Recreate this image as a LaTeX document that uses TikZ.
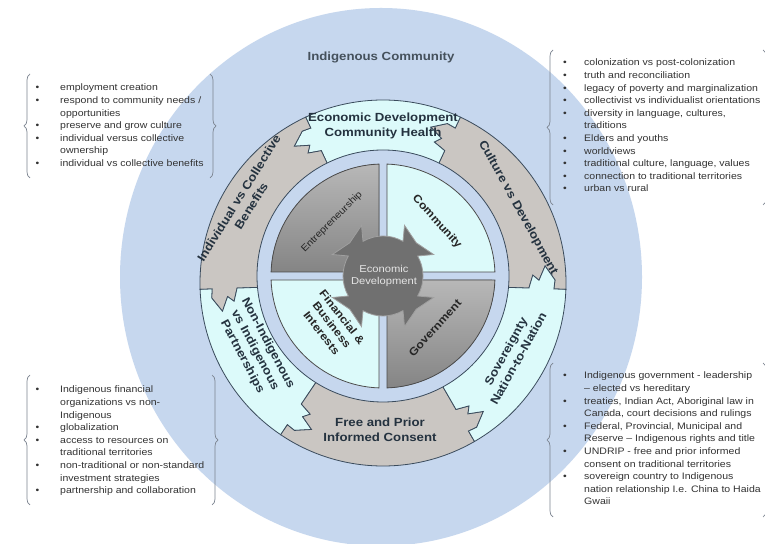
\documentclass[tikz,border=0pt]{standalone}
\usepackage{fontspec}
\setmainfont{Liberation Sans}[FakeStretch=1.12]
\usetikzlibrary{decorations.pathreplacing}

\definecolor{commblue}{HTML}{C6D7EE}
\definecolor{piececyan}{HTML}{DCFAFA}
\definecolor{piecegray}{HTML}{CAC6C2}
\definecolor{rimline}{HTML}{3A4B5C}
\definecolor{labeltext}{HTML}{24323F}
\definecolor{listtext}{HTML}{333333}
\definecolor{bracegray}{HTML}{7C8490}
\definecolor{gearfill}{HTML}{707070}
\definecolor{gearline}{HTML}{A0A0A0}

\newcommand{\ringpiece}[3]{% fill, start angle, end angle
  \filldraw[fill=#1, draw=rimline, line width=0.8pt]
    (#2:183) arc[start angle=#2, end angle=#3, radius=183]
    -- (#3:171) -- ({#3+3}:172) -- ({#3+8}:163) -- ({#3+3}:156) -- ({#3+5}:150)
    -- (#3:146) -- (#3:118)
    arc[start angle=#3, end angle=#2, radius=118]
    -- (#2:146) -- ({#2+5}:150) -- ({#2+3}:156) -- ({#2+8}:163) -- ({#2+3}:172)
    -- (#2:171) -- cycle;}
\newcommand{\quarter}[2]{% style, rotation
  \filldraw[#1, rotate=#2] (4,4) -- (2.05:112)
    arc[start angle=2.05, end angle=87.95, radius=112] -- cycle;}
\newcommand{\bul}{\textbullet}

\begin{document}
\begin{tikzpicture}[x=1pt, y=1pt,
    ringlabel/.style={font=\fontsize{11.8}{14.5}\selectfont\bfseries, text=labeltext, align=center, inner sep=0pt},
    quadlabel/.style={font=\fontsize{11}{13}\selectfont\bfseries, text=black!85, align=center, inner sep=0pt},
    listnode/.style={font=\fontsize{9.4}{12.6}\selectfont, text=listtext, inner sep=0pt, anchor=base west},
    bracket/.style={decorate, decoration={brace, amplitude=6pt}, draw=bracegray, line width=0.7pt},
    quadgray/.style={draw=black!70, line width=0.8pt, top color=black!28, bottom color=black!48},
    quadcyan/.style={fill=piececyan, draw=black!70, line width=0.8pt}]
\useasboundingbox (0,0) rectangle (765,543);
\clip (0,0) rectangle (765,543);
\fill[white] (0,0) rectangle (765,543);

% community ellipse
\fill[commblue] (381,266) ellipse[x radius=261, y radius=269];
\node[font=\fontsize{11.8}{14}\selectfont\bfseries, text=labeltext!85] (title) at (381,486) {Indigenous Community};

% outer ring
\begin{scope}[shift={(383,260)}]
  \ringpiece{piecegray}{-2}{65}
  \ringpiece{piececyan}{65}{115}
  \ringpiece{piecegray}{115}{182}
  \ringpiece{piececyan}{182}{236}
  \ringpiece{piecegray}{236}{300}
  \ringpiece{piececyan}{300}{358}
\end{scope}

% inner band and quadrants
\begin{scope}[shift={(383,267)}]
  \filldraw[fill=commblue, draw=rimline, line width=0.8pt] (0,0) circle[radius=126];
  \quarter{quadcyan}{0}
  \quarter{quadgray}{90}
  \quarter{quadcyan}{180}
  \quarter{quadgray}{270}
  \filldraw[fill=gearfill, draw=gearline, line width=0.8pt] (30:40)
    \foreach \a in {45,135,225,315}{ -- ({\a-15}:40) -- ({\a-22}:55) -- (\a:47)
      -- ({\a+22}:55) -- ({\a+15}:40) arc[start angle={\a+15}, end angle={\a+75}, radius=40] } -- cycle;
\end{scope}

\node[ringlabel] (health) at (383,417) {Economic Development\\Community Health};
\node[ringlabel, rotate=58] (benefits) at (245,341) {Individual vs Collective\\Benefits};
\node[ringlabel, rotate=-61] (culture) at (518,335) {Culture vs Development};
\node[ringlabel, rotate=61] (sovereign) at (512,188) {Sovereignty\\Nation-to-Nation};
\node[ringlabel] (consent) at (380,113) {Free and Prior\\Informed Consent};
\node[ringlabel, rotate=-62] (partners) at (255,193) {Non-Indigenous\\vs Indigenous\\Partnerships};

\node[font=\fontsize{9.5}{11}\selectfont, text=black!85, rotate=45] (entre) at (332,321) {Entrepreneurship};
\node[quadlabel, rotate=-48] (comm) at (437,321) {Community};
\node[quadlabel, rotate=-52] (fin) at (332,218) {Financial \&\\Business\\Interests};
\node[quadlabel, rotate=48] (govt) at (435,215) {Government};
\node[font=\fontsize{10}{12.5}\selectfont, text=black!10, align=center] (core) at (384,267) {Economic\\Development};

% lists
\node[listnode] (lstA) at (35.5,452) {\begin{tabular}[t]{@{}p{24.5pt}@{}l@{}}
\bul & employment creation\\
\bul & respond to community needs /\\
 & opportunities\\
\bul & preserve and grow culture\\
\bul & individual versus collective\\
 & ownership\\
\bul & individual vs collective benefits
\end{tabular}};
\node[listnode] (lstB) at (563,477) {\begin{tabular}[t]{@{}p{21pt}@{}l@{}}
\bul & colonization vs post-colonization\\
\bul & truth and reconciliation\\
\bul & legacy of poverty and marginalization\\
\bul & collectivist vs individualist orientations\\
\bul & diversity in language, cultures,\\
 & traditions\\
\bul & Elders and youths\\
\bul & worldviews\\
\bul & traditional culture, language, values\\
\bul & connection to traditional territories\\
\bul & urban vs rural
\end{tabular}};
\node[listnode] (lstC) at (35.5,150) {\begin{tabular}[t]{@{}p{24.5pt}@{}l@{}}
\bul & Indigenous financial\\
 & organizations vs non-\\
 & Indigenous\\
\bul & globalization\\
\bul & access to resources on\\
 & traditional territories\\
\bul & non-traditional or non-standard\\
 & investment strategies\\
\bul & partnership and collaboration
\end{tabular}};
\node[listnode] (lstD) at (563,164) {\begin{tabular}[t]{@{}p{21pt}@{}l@{}}
\bul & Indigenous government - leadership\\
 & -- elected vs hereditary\\
\bul & treaties, Indian Act, Aboriginal law in\\
 & Canada, court decisions and rulings\\
\bul & Federal, Provincial, Municipal and\\
 & Reserve -- Indigenous rights and title\\
\bul & UNDRIP - free and prior informed\\
 & consent on traditional territories\\
\bul & sovereign country to Indigenous\\
 & nation relationship I.e. China to Haida\\
 & Gwaii
\end{tabular}};

\draw[bracket] (30,365) -- (30,469);
\draw[bracket] (210,469) -- (210,365);
\draw[bracket] (553,338) -- (553,493);
\draw[bracket, decoration={amplitude=8pt}] (763,493) -- (763,338);
\draw[bracket] (30,38) -- (30,168);
\draw[bracket] (212,168) -- (212,38);
\draw[bracket] (553,26) -- (553,180);
\draw[bracket, decoration={amplitude=8pt}] (763,180) -- (763,26);
\end{tikzpicture}
\end{document}
